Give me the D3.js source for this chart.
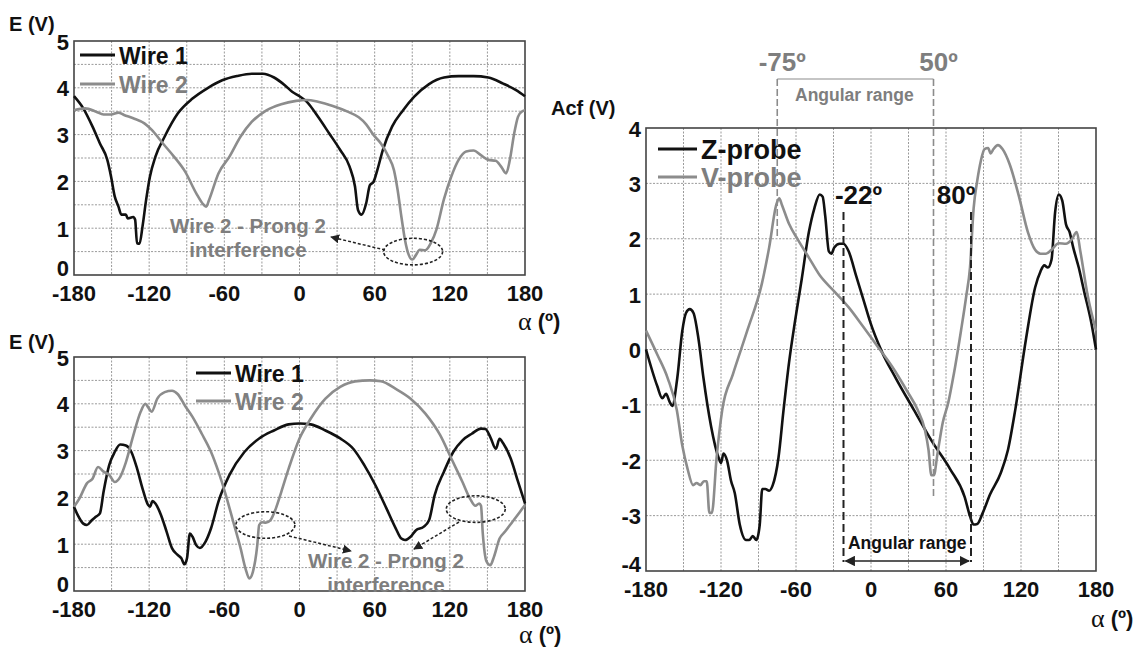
<!DOCTYPE html>
<html><head><meta charset="utf-8">
<script src="https://cdn.jsdelivr.net/npm/d3@7"></script>
<style>
body{margin:0;background:#fff}
svg{display:block}
text{font-family:"Liberation Sans",Arial,sans-serif;font-weight:bold}
</style>
</head><body>
<svg id="c" width="1148" height="650"></svg>
<script>
// ---------- tick labels ----------
const xTicks = [-180, -120, -60, 0, 60, 120, 180];
const xGrid = d3.range(-180, 181, 30);
const eTicks = [0, 1, 2, 3, 4, 5];
const eGrid = d3.range(0, 5.001, 0.5);
const acfTicks = [-4, -3, -2, -1, 0, 1, 2, 3, 4];

// ---------- top-left panel: E (V) vs alpha ----------
const topWire1 = [[-180,3.82],[-172.6,3.56],[-165.2,3.17],[-159.3,2.81],[-153.4,2.46],[-150.4,2.10],[-147.5,1.68],[-144.5,1.46],[-142.2,1.29],[-138.6,1.29],[-137.1,1.21],[-132.7,1.24],[-131.2,1.18],[-129.7,0.68],[-127.7,0.67],[-125.3,1.04],[-122.4,1.61],[-119.4,2.10],[-115,2.53],[-107.6,2.96],[-97.2,3.45],[-85.4,3.77],[-73.6,3.99],[-61.7,4.16],[-49.9,4.25],[-38,4.30],[-29.2,4.30],[-20.3,4.22],[-11.5,4.05],[-5.6,3.91],[0,3.82],[5.9,3.70],[14.8,3.38],[23.6,3.03],[32.5,2.67],[39.9,2.32],[44.3,1.89],[46.7,1.39],[49.6,1.29],[53.2,1.53],[56.2,1.92],[59.1,1.99],[62.1,2.24],[66.5,2.67],[73.9,3.17],[82.7,3.52],[91.6,3.81],[103.4,4.08],[115.3,4.22],[127.1,4.25],[138.9,4.25],[150.7,4.22],[162.6,4.09],[172.9,3.95],[180,3.82]];
const topWire2 = [[-180,3.52],[-171.1,3.56],[-162.3,3.49],[-156.4,3.43],[-150.4,3.43],[-144.5,3.47],[-140.1,3.42],[-132.7,3.35],[-123.8,3.24],[-117.9,3.10],[-109,2.81],[-100.2,2.53],[-91.3,2.21],[-82.5,1.75],[-76.5,1.50],[-74.5,1.46],[-72.1,1.61],[-64.7,2.17],[-55.9,2.53],[-47,2.96],[-38.2,3.27],[-26.4,3.52],[-14.6,3.65],[-2.7,3.72],[6,3.74],[14.8,3.70],[26.6,3.61],[38.4,3.49],[47.3,3.37],[53.2,3.22],[59.1,2.99],[65,2.81],[71,2.53],[75.4,2.24],[78.3,1.82],[81.3,1.25],[84.2,0.75],[87.2,0.43],[90.1,0.33],[93,0.43],[96,0.54],[100.4,0.53],[104.8,0.68],[109.3,0.97],[115.2,1.61],[121.1,2.10],[127,2.46],[133,2.64],[138.9,2.66],[144.8,2.56],[150.7,2.46],[156.6,2.44],[161.1,2.31],[164.9,2.17],[167.9,2.46],[171.4,3.03],[174.4,3.38],[177.3,3.49],[180,3.52]];

// ---------- bottom-left panel ----------
const botWire1 = [[-180,1.80],[-177,1.62],[-172.6,1.44],[-169.7,1.41],[-165.8,1.51],[-162.3,1.59],[-159.3,1.66],[-156.4,2.12],[-151.9,2.69],[-147.5,2.97],[-143.1,3.13],[-138.6,3.11],[-134.2,2.97],[-129.7,2.62],[-125.3,2.19],[-120.9,1.84],[-119.4,1.80],[-117.3,1.92],[-115,1.87],[-110.5,1.62],[-106.1,1.27],[-101.7,0.91],[-97.2,0.77],[-94.3,0.70],[-91.9,0.57],[-89.8,0.70],[-87.5,1.23],[-85.4,1.16],[-82.5,0.98],[-79.5,0.92],[-75.1,1.05],[-70.6,1.34],[-64.7,1.91],[-55.9,2.48],[-44,2.97],[-32.2,3.26],[-20.4,3.43],[-8.7,3.56],[0,3.58],[8.9,3.56],[20.7,3.43],[32.5,3.26],[42.9,3.04],[51.7,2.69],[60.6,2.26],[69.5,1.76],[76.8,1.34],[81.3,1.12],[84.2,1.09],[88.7,1.16],[93,1.30],[99,1.37],[103.4,1.51],[107.9,2.05],[115.3,2.55],[122.7,2.97],[130.1,3.22],[137.5,3.36],[144.9,3.47],[148.4,3.46],[152.3,3.29],[156.7,3.04],[159.7,3.25],[162.7,3.15],[168.6,2.83],[174.5,2.33],[180,1.87]];
const botWire2 = [[-180,1.80],[-175.6,1.98],[-169.7,2.30],[-165.2,2.40],[-160.8,2.65],[-156.4,2.55],[-151.9,2.48],[-147.5,2.33],[-143.1,2.44],[-138.6,2.75],[-132.7,3.32],[-126.8,3.83],[-123,4.00],[-120.9,3.93],[-118,3.83],[-113.5,4.11],[-107.6,4.25],[-101.7,4.28],[-97.3,4.21],[-91.4,3.96],[-85.4,3.72],[-78,3.36],[-70.6,2.97],[-64.7,2.55],[-58.8,2.05],[-52.9,1.48],[-47,0.91],[-43.1,0.48],[-40.1,0.27],[-37.2,0.41],[-33.7,0.98],[-32.2,1.41],[-29.8,1.47],[-26.9,1.46],[-23.3,1.51],[-18.9,1.76],[-14.5,2.12],[-8.6,2.62],[0,3.26],[8.9,3.68],[20.7,4.11],[32.5,4.36],[44.3,4.48],[56.2,4.50],[65,4.48],[76.8,4.32],[88.7,4.11],[100.5,3.79],[112.3,3.33],[121.2,2.83],[130.1,2.33],[136,1.98],[140.4,1.82],[143.4,1.87],[144.9,1.82],[146.3,1.23],[149.3,0.63],[152.3,0.55],[155.2,0.73],[159.7,1.12],[164.1,1.27],[170,1.48],[175.9,1.69],[180,1.84]];

// ---------- right panel: Acf (V) ----------
const zProbe = [[-180,0],[-171,-0.66],[-167,-0.88],[-164,-0.80],[-161,-0.95],[-159,-1.02],[-155,-0.52],[-151,0.33],[-148,0.66],[-145,0.73],[-142,0.66],[-138,0.19],[-134,-0.52],[-128,-1.38],[-122,-1.95],[-120,-2.05],[-118,-1.88],[-115,-2.02],[-112,-2.37],[-109,-2.59],[-105,-3.16],[-100,-3.44],[-97.4,-3.44],[-94.6,-3.37],[-91.7,-3.44],[-89,-3.16],[-87,-2.52],[-84.5,-2.52],[-81.5,-2.55],[-78.6,-2.45],[-74,-1.95],[-70,-1.10],[-65.6,-0.24],[-61,0.48],[-55.5,1.26],[-49.7,2.12],[-45.3,2.55],[-41,2.80],[-38.7,2.76],[-36.6,2.41],[-33.7,1.77],[-31.7,1.73],[-29.4,1.84],[-25,1.91],[-22,1.91],[-17.8,1.77],[-12,1.34],[-6.2,0.91],[-0.4,0.48],[8.3,-0.02],[19.9,-0.52],[34.3,-1.09],[48.8,-1.66],[63.3,-2.16],[74.9,-2.66],[79.2,-3.01],[82,-3.16],[85,-3.15],[89.4,-2.95],[95.2,-2.62],[103.8,-2.23],[109.6,-1.81],[115.4,-1.09],[124,0.19],[131.3,1.12],[135.6,1.41],[138.6,1.52],[141.5,1.48],[144.4,1.62],[147.3,2.48],[150.2,2.80],[153,2.69],[156,2.26],[158.9,2.12],[161.8,1.84],[166.2,1.48],[170.5,1.05],[176.3,0.48],[180,0]];
const vProbe = [[-180,0.34],[-171,-0.09],[-162.6,-0.52],[-155.4,-1.09],[-151,-1.73],[-146.7,-2.16],[-142.3,-2.45],[-139.5,-2.41],[-136.6,-2.45],[-133.7,-2.38],[-131.4,-2.38],[-129.3,-2.95],[-127.3,-2.95],[-123.5,-1.95],[-119,-1.09],[-110.5,-0.45],[-99,0.34],[-87.3,1.19],[-81.5,1.84],[-75.7,2.62],[-73.4,2.73],[-71.4,2.62],[-65.6,2.27],[-58.4,1.98],[-49.7,1.66],[-41,1.34],[-29.4,1.05],[-17.8,0.76],[-6.2,0.41],[5.4,0.05],[17,-0.31],[28.6,-0.74],[37.3,-1.09],[43.1,-1.45],[46,-1.81],[48.3,-2.27],[50.3,-2.27],[53.2,-1.88],[57.5,-1.31],[61.9,-0.95],[66.2,-0.45],[72,0.34],[76.3,0.98],[79.2,1.48],[82.1,2.55],[85,3.05],[87.9,3.41],[90.8,3.62],[93.7,3.64],[95.7,3.54],[98,3.62],[101.5,3.69],[105.2,3.62],[111,3.34],[118.3,2.77],[125.5,2.12],[131.3,1.80],[135.6,1.73],[140,1.73],[144.4,1.80],[150.2,1.92],[156,1.91],[160.3,1.98],[164.6,2.12],[167.5,1.77],[173.3,0.98],[180,0.34]];

// annotation angles
const vRange = [-75, 50];
const zRange = [-22, 80];

const BLACK = "#111", GREY = "#8c8c8c", GREYTXT = "#7e7e7e";
const svg = d3.select("#c");

const defs = svg.append("defs");
function marker(id, color, w) {
  defs.append("marker").attr("id", id).attr("viewBox", "0 0 10 10")
    .attr("refX", 9).attr("refY", 5).attr("markerWidth", w).attr("markerHeight", w)
    .attr("orient", "auto-start-reverse")
    .append("path").attr("d", "M0,0 L10,5 L0,10 z").attr("fill", color);
}
marker("arr", "#222", 6);
marker("arrS", "#222", 7);

function panel(o) {
  const x = d3.scaleLinear().domain([-180, 180]).range([o.x0, o.x1]);
  const y = d3.scaleLinear().domain(o.yDom).range([o.y1, o.y0]);
  const g = svg.append("g");
  // grid
  g.selectAll(".gx").data(xGrid.slice(1, -1)).join("line")
    .attr("x1", d => x(d)).attr("x2", d => x(d)).attr("y1", o.y0).attr("y2", o.y1)
    .attr("stroke", "#9a9a9a").attr("stroke-width", 1).attr("stroke-dasharray", "2,1.5");
  g.selectAll(".gy").data(o.yGrid.filter(v => v > o.yDom[0] && v < o.yDom[1])).join("line")
    .attr("x1", o.x0).attr("x2", o.x1).attr("y1", d => y(d)).attr("y2", d => y(d))
    .attr("stroke", "#9a9a9a").attr("stroke-width", 1).attr("stroke-dasharray", "2,1.5");
  // frame
  g.append("rect").attr("x", o.x0).attr("y", o.y0).attr("width", o.x1 - o.x0).attr("height", o.y1 - o.y0)
    .attr("fill", "none").attr("stroke", "#444").attr("stroke-width", 1.6);
  // tick labels
  g.selectAll(".tx").data(xTicks).join("text")
    .attr("x", d => x(d)).attr("y", o.y1 + 18).attr("text-anchor", "middle")
    .attr("dominant-baseline", "central").attr("font-size", 22).attr("fill", "#111").text(d => d);
  g.selectAll(".ty").data(o.yTicks).join("text")
    .attr("x", o.x0 - 5).attr("y", d => d === o.yDom[0] ? y(d) - 7 : y(d) + 1).attr("text-anchor", "end")
    .attr("dominant-baseline", "central").attr("font-size", 22).attr("fill", "#111").text(d => d);
  // axis titles
  g.append("text").attr("x", o.yTitle[0]).attr("y", o.yTitle[1]).attr("dominant-baseline", "central")
    .attr("font-size", 20).attr("fill", "#111").text(o.yLabel);
  const at = g.append("text").attr("x", o.xTitle[0]).attr("y", o.xTitle[1]).attr("dominant-baseline", "central").attr("fill", "#111");
  at.append("tspan").attr("font-family", "Liberation Serif, serif").attr("font-weight", "normal").attr("font-size", 26).text("α");
  at.append("tspan").attr("font-size", 22).text(" (º)");
  // curves
  const line = d3.line().x(d => x(d[0])).y(d => y(d[1])).curve(d3.curveMonotoneX);
  o.series.forEach(s => {
    g.append("path").datum(s.data).attr("d", line).attr("fill", "none")
      .attr("stroke", s.color).attr("stroke-width", 2.6).attr("stroke-linejoin", "round");
  });
  // legend
  o.series.forEach((s, i) => {
    const ly = o.leg[1] + i * o.leg[3];
    g.append("line").attr("x1", o.leg[0]).attr("x2", o.leg[0] + o.leg[2]).attr("y1", ly).attr("y2", ly)
      .attr("stroke", s.color).attr("stroke-width", 3.2);
    g.append("text").attr("x", o.leg[0] + o.leg[2] + 4).attr("y", ly + 1).attr("dominant-baseline", "central")
      .attr("font-size", o.legFont).attr("fill", s.tcolor).text(s.name);
  });
  return {x, y, g};
}

// ---- top-left ----
const p1 = panel({x0: 74, x1: 525, y0: 41, y1: 275, yDom: [0, 5], yGrid: eGrid, yTicks: eTicks,
  yLabel: "E (V)", yTitle: [9, 24], xTitle: [518, 321],
  leg: [80, 55, 35, 29], legFont: 23,
  series: [{name: "Wire 1", data: topWire1, color: BLACK, tcolor: "#111"},
           {name: "Wire 2", data: topWire2, color: GREY, tcolor: GREYTXT}]});

function ellipse(p, a, v) {
  p.g.append("ellipse").attr("cx", p.x(a)).attr("cy", p.y(v)).attr("rx", 29.5).attr("ry", 13.3)
    .attr("fill", "none").attr("stroke", "#222").attr("stroke-width", 1.6).attr("stroke-dasharray", "3,2");
}
function arrow(p, x1, y1, x2, y2) {
  p.g.append("line").attr("x1", x1).attr("y1", y1).attr("x2", x2).attr("y2", y2)
    .attr("stroke", "#222").attr("stroke-width", 1.5).attr("stroke-dasharray", "3,2").attr("marker-end", "url(#arr)");
}
function twoLines(p, cx, y1, y2) {
  p.g.append("text").attr("x", cx).attr("y", y1).attr("text-anchor", "middle").attr("dominant-baseline", "central")
    .attr("font-size", 20.5).attr("fill", GREYTXT).text("Wire 2 - Prong 2");
  p.g.append("text").attr("x", cx).attr("y", y2).attr("text-anchor", "middle").attr("dominant-baseline", "central")
    .attr("font-size", 20.5).attr("fill", GREYTXT).text("interference");
}
ellipse(p1, 90.7, 0.5);
arrow(p1, 385, 250, 331, 237);
twoLines(p1, 248, 225, 249);

// ---- bottom-left ----
const p2 = panel({x0: 74, x1: 525, y0: 357, y1: 591, yDom: [0, 5], yGrid: eGrid, yTicks: eTicks,
  yLabel: "E (V)", yTitle: [9, 342], xTitle: [519, 634],
  leg: [196, 373, 35, 28], legFont: 23,
  series: [{name: "Wire 1", data: botWire1, color: BLACK, tcolor: "#111"},
           {name: "Wire 2", data: botWire2, color: GREY, tcolor: GREYTXT}]});
ellipse(p2, -27.2, 1.41);
ellipse(p2, 140.7, 1.75);
arrow(p2, 289, 536, 351, 551);
arrow(p2, 459, 522, 414, 549);
twoLines(p2, 386, 560, 584);

// ---- right ----
const p3 = panel({x0: 646, x1: 1096, y0: 128, y1: 571, yDom: [-4, 4], yGrid: acfTicks, yTicks: acfTicks,
  yLabel: "Acf (V)", yTitle: [551, 108], xTitle: [1091, 618],
  leg: [658, 149, 39, 28], legFont: 27,
  series: [{name: "Z-probe", data: zProbe, color: BLACK, tcolor: "#111"},
           {name: "V-probe", data: vProbe, color: GREY, tcolor: GREYTXT}]});

// grey angular range (V-probe)
const gx1 = p3.x(vRange[0]), gx2 = p3.x(vRange[1]);
p3.g.append("line").attr("x1", gx1).attr("x2", gx2).attr("y1", 79).attr("y2", 79)
  .attr("stroke", GREY).attr("stroke-width", 1.2);
p3.g.append("line").attr("x1", gx1).attr("x2", gx1).attr("y1", 79).attr("y2", p3.y(2.0))
  .attr("stroke", GREY).attr("stroke-width", 1.6).attr("stroke-dasharray", "7,3");
p3.g.append("line").attr("x1", gx2).attr("x2", gx2).attr("y1", 79).attr("y2", p3.y(-2.66))
  .attr("stroke", GREY).attr("stroke-width", 1.6).attr("stroke-dasharray", "7,3");
p3.g.append("text").attr("x", gx1 + 5).attr("y", 62).attr("text-anchor", "middle").attr("dominant-baseline", "central")
  .attr("font-size", 26).attr("fill", GREYTXT).text(vRange[0] + "º");
p3.g.append("text").attr("x", gx2 + 5).attr("y", 62).attr("text-anchor", "middle").attr("dominant-baseline", "central")
  .attr("font-size", 26).attr("fill", GREYTXT).text(vRange[1] + "º");
p3.g.append("text").attr("x", (gx1 + gx2) / 2 - 1).attr("y", 95).attr("text-anchor", "middle").attr("dominant-baseline", "central")
  .attr("font-size", 17.5).attr("fill", GREYTXT).text("Angular range");

// black angular range (Z-probe)
const bx1 = p3.x(zRange[0]), bx2 = p3.x(zRange[1]);
[bx1, bx2].forEach(xx => {
  p3.g.append("line").attr("x1", xx).attr("x2", xx).attr("y1", 212).attr("y2", 562)
    .attr("stroke", "#222").attr("stroke-width", 2).attr("stroke-dasharray", "8,4");
});
p3.g.append("line").attr("x1", bx1 + 2).attr("x2", bx2 - 2).attr("y1", 561).attr("y2", 561)
  .attr("stroke", "#222").attr("stroke-width", 1.5)
  .attr("marker-start", "url(#arrS)").attr("marker-end", "url(#arrS)");
p3.g.append("text").attr("x", bx1 + 15).attr("y", 195).attr("text-anchor", "middle").attr("dominant-baseline", "central")
  .attr("font-size", 26).attr("fill", "#111").text(zRange[0] + "º");
p3.g.append("text").attr("x", bx2 - 15).attr("y", 195).attr("text-anchor", "middle").attr("dominant-baseline", "central")
  .attr("font-size", 26).attr("fill", "#111").text(zRange[1] + "º");
p3.g.append("text").attr("x", (bx1 + bx2) / 2).attr("y", 543).attr("text-anchor", "middle").attr("dominant-baseline", "central")
  .attr("font-size", 17.5).attr("fill", "#111").text("Angular range");
</script>
</body></html>
